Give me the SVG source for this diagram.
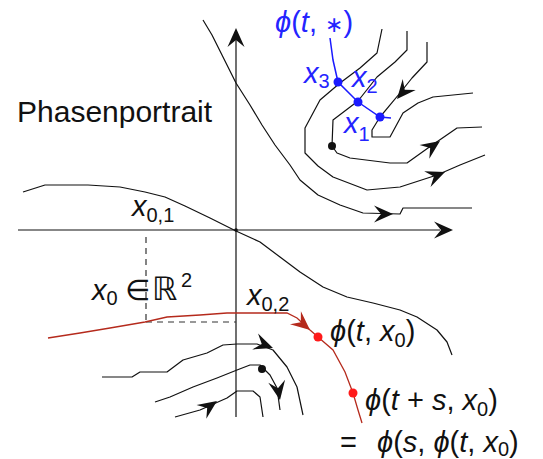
<svg xmlns="http://www.w3.org/2000/svg" xmlns:xlink="http://www.w3.org/1999/xlink" width="543" height="459" viewBox="0 0 543 459">
<defs>
<style>
.ln{fill:none;stroke:#111;stroke-width:1.2;stroke-linejoin:round}
.ax{fill:none;stroke:#111;stroke-width:1.2}
.red{fill:none;stroke:#b52a1c;stroke-width:1.3}
.blu{fill:none;stroke:#1a1aff;stroke-width:1.5}
.dash{fill:none;stroke:#333;stroke-width:1.2;stroke-dasharray:6,5}
text{font-family:"Liberation Sans","DejaVu Sans",sans-serif;font-size:29px;fill:#111}
.it{font-style:italic}
.sub{font-size:20px}
.bt{fill:#2424ff}
</style>
<path id="ah" d="M0,0 L-19,-8.5 L-12,0 L-19,8.5 Z"/>
</defs>
<rect width="543" height="459" fill="#fff"/>
<g id="connectors">
<path class="ax" d="M236,40 V417"/>
<path class="ax" d="M18,230 H440"/>
<use xlink:href="#ah" href="#ah" fill="#111" transform="translate(236,28) rotate(-90)"/>
<use xlink:href="#ah" href="#ah" fill="#111" transform="translate(453,230)"/>
<circle cx="236" cy="230" r="1.8" fill="#111"/>
<path class="ln" d="M203,20 L212,35 L222,55 L236,83 L250,105 L262,125 L275,145 L290,165 L300,180 L318,195 L340,205 L363,213 L400,214 L403,208 L472,208"/>
<path class="ln" d="M23,192 L45,185 L88,185 L120,187 L145,192 L165,197 L185,206 L210,218 L236,231 L260,242 L280,257 L300,272 L323,287 L347,297 L373,303 L400,310 L417,317 L437,330 L447,342 L452,355"/>
<path class="ln" d="M382,29 L377,53 L360,68 L340,83 L320,100 L305,128 L305,153 L318,166 L333,177 L367,190 L400,187 L437,175 L460,165 L485,155"/>
<path class="ln" d="M407,31 L407,50 L395,62 L377,77 L358,101 L333,120 L332,146 L337,153 L350,158 L390,163 L407,163 L428,148 L457,128 L482,127"/>
<path class="ln" d="M427,42 L427,62 L412,78 L400,93 L380,117 L372,130 L372,137 L390,137 L403,113 L418,103 L433,97 L473,93"/>
<path class="ln" d="M102,377 L132,377 L140,372 L167,372 L183,360 L207,353 L223,345 L237,344 L257,344 L273,350 L287,367 L297,387 L303,415"/>
<path class="ln" d="M155,402 L170,397 L193,387 L217,378 L237,370 L250,365 L260,365 L270,375 L277,388 L280,410"/>
<path class="ln" d="M175,417 L200,410 L227,398 L237,391 L253,391 L260,397 L263,417"/>
<path class="dash" d="M146,237 V322 M146,322 H236"/>
<path class="red" d="M48,338 L80,333 L110,328 L145,322 L167,317 L200,315 L227,313 L287,313 L297,318 L310,330 L318,337 L333,350 L345,372 L353,393 L358,410 L362,423"/>
<path class="blu" d="M330,38 L333,60 L338,82 L358,102 L380,117 L391,118"/>
<use xlink:href="#ah" href="#ah" fill="#111" transform="translate(393,214)"/>
<use xlink:href="#ah" href="#ah" fill="#111" transform="translate(445,172) rotate(-22)"/>
<use xlink:href="#ah" href="#ah" fill="#111" transform="translate(440,141) rotate(-35)"/>
<use xlink:href="#ah" href="#ah" fill="#111" transform="translate(397,99) rotate(130)"/>
<use xlink:href="#ah" href="#ah" fill="#b52a1c" transform="translate(310,330) rotate(40)"/>
<use xlink:href="#ah" href="#ah" fill="#111" transform="translate(273,348) rotate(20)"/>
<use xlink:href="#ah" href="#ah" fill="#111" transform="translate(280,400) rotate(80)"/>
<use xlink:href="#ah" href="#ah" fill="#111" transform="translate(217,401) rotate(-35)"/>
</g>
<g id="points">
<circle cx="332" cy="146" r="4" fill="#111"/>
<circle cx="262" cy="369" r="4" fill="#111"/>
<circle cx="338" cy="82" r="4.5" fill="#1a1aff"/>
<circle cx="358" cy="102" r="4.5" fill="#1a1aff"/>
<circle cx="380" cy="117" r="4.5" fill="#1a1aff"/>
<circle cx="318" cy="337" r="4.5" fill="#ff1a1a"/>
<circle cx="353" cy="393" r="4.5" fill="#ff1a1a"/>
</g>
<g id="labels">
<text id="title" x="17" y="122" style="font-size:30px">Phasenportrait</text>
<text id="phi-star" class="bt" x="275" y="32"><tspan class="it">ϕ</tspan>(<tspan class="it">t</tspan>, <tspan style="font-size:22px">∗</tspan>)</text>
<text id="x3" class="bt" x="304" y="83"><tspan class="it">x</tspan><tspan class="sub" dy="5">3</tspan></text>
<text id="x2" class="bt" x="352" y="87"><tspan class="it">x</tspan><tspan class="sub" dy="6">2</tspan></text>
<text id="x1" class="bt" x="344" y="133"><tspan class="it">x</tspan><tspan class="sub" dy="8">1</tspan></text>
<text id="x01" x="132" y="216"><tspan class="it">x</tspan><tspan class="sub" dy="6">0,1</tspan></text>
<text id="x0R2" x="92" y="300"><tspan class="it">x</tspan><tspan class="sub" dy="5">0</tspan><tspan x="125" dy="-5">∈</tspan><tspan x="152" style="font-size:32px">ℝ</tspan><tspan class="sub" x="181" dy="-13">2</tspan></text>
<text id="x02" x="247" y="305"><tspan class="it">x</tspan><tspan class="sub" dy="6">0,2</tspan></text>
<text id="phi-t" x="330" y="341"><tspan class="it">ϕ</tspan>(<tspan class="it">t</tspan>, <tspan class="it">x</tspan><tspan class="sub" dy="6">0</tspan><tspan dy="-6">)</tspan></text>
<text id="phi-ts" x="365" y="410"><tspan class="it">ϕ</tspan>(<tspan class="it">t</tspan> + <tspan class="it">s</tspan>, <tspan class="it">x</tspan><tspan class="sub" dy="6">0</tspan><tspan dy="-6">)</tspan></text>
<text id="phi-s" x="340" y="452">=<tspan x="377" class="it">ϕ</tspan>(<tspan class="it">s</tspan>, <tspan class="it">ϕ</tspan>(<tspan class="it">t</tspan>, <tspan class="it">x</tspan><tspan class="sub" dy="4">0</tspan><tspan dy="-4">)</tspan></text>
</g>
</svg>
